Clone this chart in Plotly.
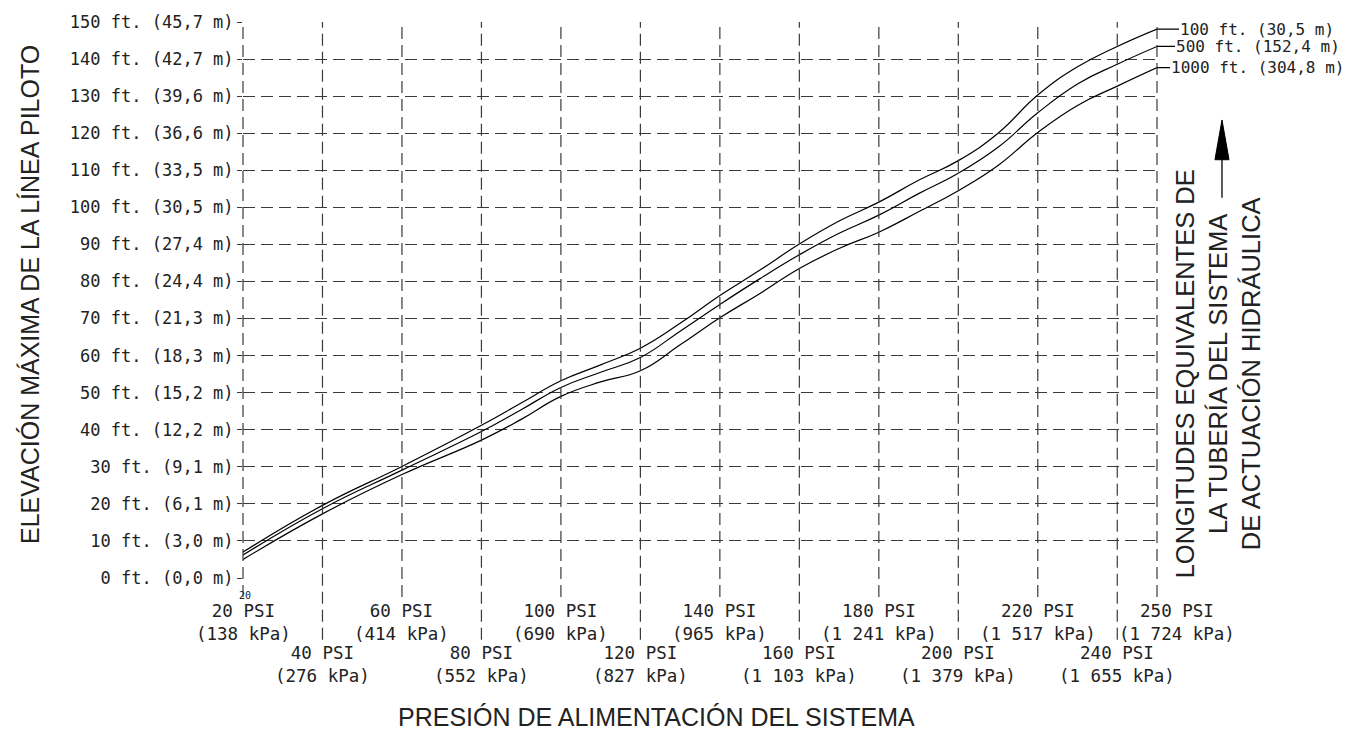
import plotly.graph_objects as go

# ---------------- data ----------------
psi = [20, 40, 60, 80, 90, 100, 110, 120, 130, 140, 150, 160, 170,
       180, 190, 200, 210, 220, 230, 240, 250]
elev_100ft = [7.0, 19.6, 30.1, 41.2, 47.2, 53.2, 57.5, 62.0, 68.7, 76.2, 83.0,
              90.1, 96.3, 101.4, 107.3, 112.6, 120.0, 130.3, 137.9, 143.4, 148.1]
elev_500ft = [6.2, 18.7, 29.1, 39.5, 45.4, 51.4, 55.5, 59.5, 66.6, 73.8, 80.7,
              87.2, 93.0, 97.9, 103.7, 109.2, 116.2, 125.5, 133.3, 138.6, 143.4]
elev_1000ft = [5.0, 17.3, 27.9, 37.2, 42.8, 49.0, 52.9, 55.9, 62.9, 70.2, 76.7,
               83.5, 88.9, 93.3, 98.8, 104.5, 111.3, 120.2, 127.5, 132.7, 137.7]
series_labels = ["100 ft. (30,5 m)", "500 ft. (152,4 m)", "1000 ft. (304,8 m)"]

elev_ft = [0, 10, 20, 30, 40, 50, 60, 70, 80, 90, 100, 110, 120, 130, 140, 150]
elev_m = ["0,0", "3,0", "6,1", "9,1", "12,2", "15,2", "18,3", "21,3", "24,4",
          "27,4", "30,5", "33,5", "36,6", "39,6", "42,7", "45,7"]

psi_ticks = [20, 40, 60, 80, 100, 120, 140, 160, 180, 200, 220, 240, 250]
kpa_labels = ["138", "276", "414", "552", "690", "827", "965", "1 103", "1 241",
              "1 379", "1 517", "1 655", "1 724"]

X_MIN, X_MAX = 20, 250
Y_MIN, Y_MAX = 0, 150

MONO = "DejaVu Sans Mono"
SANS = "Liberation Sans, Arial, sans-serif"
TXT = "#222222"
GRID = "#3a3a3a"
DASH = "12px,6px"


def xp(v):
    return (v - X_MIN) / (X_MAX - X_MIN)


fig = go.Figure()
for ys in (elev_100ft, elev_500ft, elev_1000ft):
    fig.add_trace(go.Scatter(x=psi, y=ys, mode="lines", showlegend=False,
                             hoverinfo="skip",
                             line=dict(color="black", width=1.2,
                                       shape="spline", smoothing=1.3)))

shapes = []
# vertical dashed grid lines (extended below the plot, alternating)
for i, p in enumerate(psi_ticks):
    bottom = -0.034 if i % 2 == 0 else -0.111
    shapes.append(dict(type="line", xref="paper", yref="paper",
                       x0=xp(p), x1=xp(p), y0=bottom, y1=1,
                       line=dict(color=GRID, width=1.2, dash=DASH)))

# arrow on the right side label
ax_x = 1.0711
shapes.append(dict(type="line", xref="paper", yref="paper",
                   x0=ax_x, x1=ax_x, y0=0.684, y1=0.76,
                   line=dict(color="black", width=1.3)))
shapes.append(dict(type="path", xref="paper", yref="paper",
                   path=f"M {ax_x-0.0077},0.7523 L {ax_x},0.8238 L {ax_x+0.0077},0.7523 Z",
                   fillcolor="black", line=dict(color="black", width=1)))

annotations = []
# bottom two-row tick labels
for i, (p, k) in enumerate(zip(psi_ticks, kpa_labels)):
    row = i % 2
    annotations.append(dict(
        x=p, xref="x", y=-0.0804 if row == 0 else -0.156, yref="paper",
        text=f"{p} PSI<br>({k} kPa)", showarrow=False, xanchor="center",
        yanchor="middle", xshift=20 if p == 250 else 0,
        font=dict(family=MONO, size=17.5, color=TXT)))
# stray small label
annotations.append(dict(x=20, xref="x", y=-0.031, yref="paper", text="20",
                        showarrow=False, xanchor="center", yanchor="middle",
                        xshift=2, font=dict(family=MONO, size=10, color=TXT)))

# series labels with leader lines
offsets = [22, 18, 13]
for ys, lab, off in zip((elev_100ft, elev_500ft, elev_1000ft), series_labels, offsets):
    annotations.append(dict(
        x=psi[-1], y=ys[-1], xref="x", yref="y", text=lab, showarrow=True,
        arrowhead=0, arrowwidth=1.2, arrowcolor="black", ax=off, ay=0,
        xanchor="left", yanchor="middle", standoff=0, borderpad=0,
        font=dict(family=MONO, size=16, color=TXT)))

# axis titles
annotations.append(dict(x=0.4519, y=-0.25, xref="paper", yref="paper",
                        text="PRESIÓN DE ALIMENTACIÓN DEL SISTEMA", showarrow=False,
                        xanchor="center", yanchor="middle",
                        font=dict(family=SANS, size=25, color=TXT)))
annotations.append(dict(x=-0.233, y=0.509, xref="paper", yref="paper",
                        text="ELEVACIÓN MÁXIMA DE LA LÍNEA PILOTO", showarrow=False,
                        textangle=-90, xanchor="center", yanchor="middle",
                        font=dict(family=SANS, size=25, color=TXT)))
annotations.append(dict(x=1.0667, y=0.368, xref="paper", yref="paper",
                        text="LONGITUDES EQUIVALENTES DE<br>LA TUBERÍA DEL SISTEMA<br>DE ACTUACIÓN HIDRÁULICA",
                        showarrow=False, textangle=-90, align="center",
                        xanchor="center", yanchor="middle",
                        font=dict(family=SANS, size=25.5, color=TXT)))

fig.update_layout(
    width=1371, height=733,
    margin=dict(l=243, r=214, t=18, b=155),
    paper_bgcolor="white", plot_bgcolor="white",
    shapes=shapes, annotations=annotations,
    xaxis=dict(range=[X_MIN, X_MAX], showgrid=False, zeroline=False,
               showticklabels=False, ticks="", showline=False, fixedrange=True),
    yaxis=dict(range=[Y_MIN, Y_MAX], tickvals=elev_ft,
               ticktext=[f"{f} ft. ({m} m)" for f, m in zip(elev_ft, elev_m)],
               showgrid=True, gridcolor=GRID, gridwidth=1.2, griddash=DASH,
               zeroline=False, showline=False, ticks="outside", ticklen=5,
               tickcolor=GRID, tickwidth=1.2,
               tickfont=dict(family=MONO, size=17, color=TXT), fixedrange=True),
)

fig.write_html("out.html", config={"displayModeBar": False},
               post_script="document.body.style.margin='0';")
